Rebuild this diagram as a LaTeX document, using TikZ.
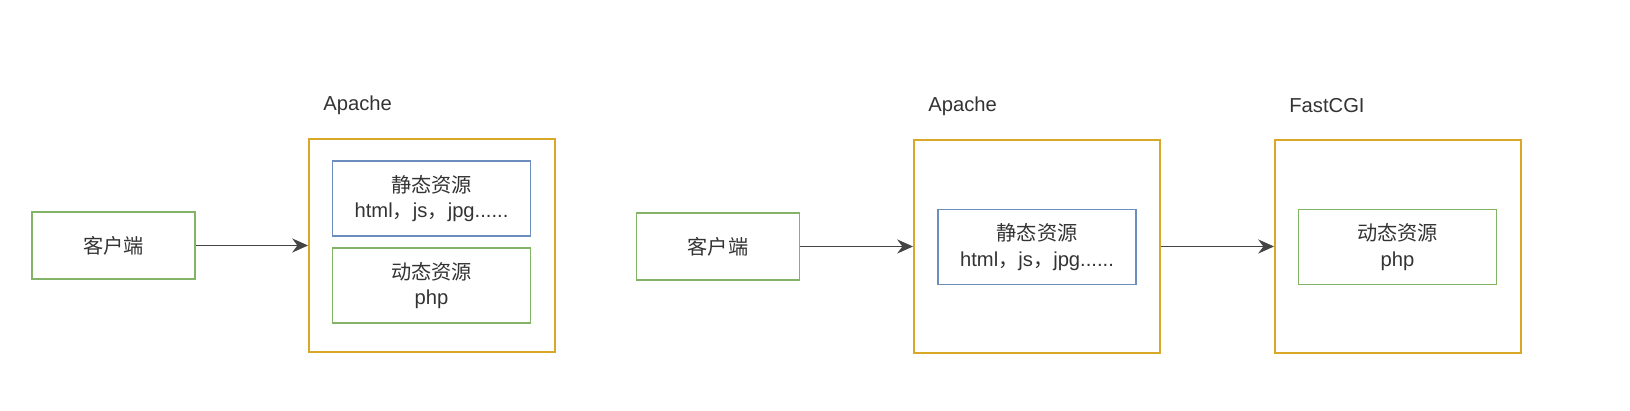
\documentclass[tikz,border=0pt]{standalone}
\usepackage{fontspec}
\setmainfont{Liberation Sans}
\newfontfamily\cjk{Noto Sans CJK SC}
\newcommand{\zh}[1]{{\cjk #1}}
\usepackage{tikz}
\usepackage{xcolor}
\usetikzlibrary{arrows.meta, positioning}

\definecolor{boxgreen}{RGB}{130,179,102}
\definecolor{boxblue}{RGB}{108,142,191}
\definecolor{boxgold}{RGB}{218,168,40}
\definecolor{textgrey}{RGB}{51,51,51}
\definecolor{arrowgrey}{RGB}{68,68,68}

\tikzset{
    box/.style 2 args={draw, rectangle, line width=0.8pt, inner sep=0pt,
        minimum width=#1*0.02cm, minimum height=#2*0.02cm,
        align=center, text=textgrey, font=\fontsize{11.5}{14.5}\selectfont},
    clientbox/.style={box={163}{67}, draw=boxgreen},
    serverbox/.style={box={246}{213}, draw=boxgold, line width=1.1pt},
    staticbox/.style={box={198}{75}, draw=boxblue},
    dynamicbox/.style={box={198}{75}, draw=boxgreen},
    title/.style={anchor=west, inner sep=0pt, text=textgrey, font=\fontsize{11.5}{14}\selectfont},
    flow/.style={draw=arrowgrey, line width=0.9pt, -{Stealth[length=9pt, width=8pt]}}
}

\begin{document}
\begin{tikzpicture}[x=0.02cm, y=-0.02cm]
    \useasboundingbox (0, 0) rectangle (1630, 411);

    % Apache handles everything
    \node[clientbox] (client1) at (113.5, 245.5) {\zh{客户端}};
    \node[serverbox] (apache1) at (432, 245.5) {};
    \node[staticbox] (static1) at (431.5, 198.5) {\zh{静态资源}\\html\zh{，}js\zh{，}jpg......};
    \node[dynamicbox] (dynamic1) at (431.5, 285.5) {\zh{动态资源}\\php};
    \node[title] (apache1label) at (323, 105) {Apache};
    \draw[flow] (client1) -- (apache1);

    % Apache + FastCGI
    \node[clientbox] (client2) at (718, 246.5) {\zh{客户端}};
    \node[serverbox] (apache2) at (1037, 246.5) {};
    \node[staticbox] (static2) at (1037, 247) {\zh{静态资源}\\html\zh{，}js\zh{，}jpg......};
    \node[title] (apache2label) at (928, 106) {Apache};
    \node[serverbox] (fcgi) at (1398, 246.5) {};
    \node[dynamicbox] (dynamic2) at (1397.5, 247) {\zh{动态资源}\\php};
    \node[title] (fcgilabel) at (1289, 106) {FastCGI};
    \draw[flow] (client2) -- (apache2);
    \draw[flow] (apache2) -- (fcgi);
\end{tikzpicture}
\end{document}
